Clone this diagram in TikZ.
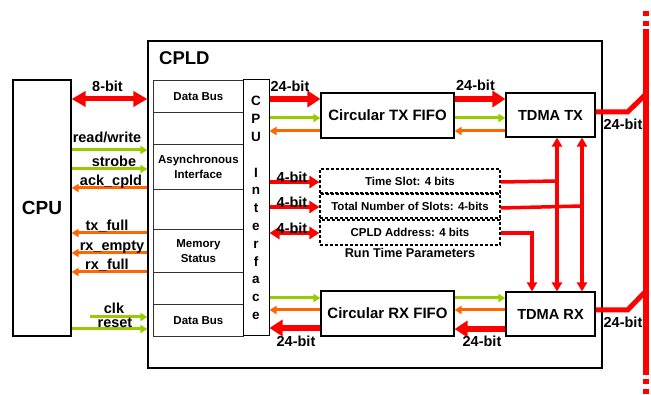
\documentclass[tikz,border=0pt]{standalone}
\usepackage{fontspec}
\setmainfont{Liberation Sans}
\usetikzlibrary{arrows.meta, positioning}
\definecolor{sigred}{RGB}{255, 0, 0}
\definecolor{siggreen}{RGB}{153, 204, 0}
\definecolor{sigorange}{RGB}{255, 102, 0}
\newcommand{\fnt}[2]{\fontsize{#1}{#2}\selectfont\bfseries}
\tikzset{
  box/.style={rectangle, draw=black, line width=1.2pt, fill=white, inner sep=0pt, align=center},
  rowbox/.style={rectangle, draw=black!80, line width=0.8pt, minimum width=90, inner sep=0pt,
                 align=center, font=\fnt{11.5}{14.5}},
  parbox/.style={rectangle, draw=black, line width=1.2pt, dash pattern=on 3pt off 2pt,
                 minimum width=180, inner sep=0pt, font=\fnt{11.5}{14}},
  lbl/.style={font=\fnt{14.5}{17}, inner sep=0pt, anchor=base},
  sig/.style={line width=3pt, -{Triangle[length=7pt,width=8pt]}},
  wbus/.style={color=sigred, line width=6pt, -{Triangle[length=13pt,width=16pt]}},
  nbus/.style={color=sigred, line width=4.5pt, -{Triangle[length=10pt,width=12pt]}},
  vbus/.style={color=sigred, line width=3.5pt, {Triangle[length=9pt,width=10pt]}-{Triangle[length=9pt,width=10pt]}},
  pbus/.style={color=sigred, line width=3.5pt},
  bus/.style={color=sigred, line width=5pt},
}
\begin{document}
\begin{tikzpicture}[x=1pt, y=-1pt]
  \useasboundingbox (0,0) rectangle (651,395);

  % boxes
  \node[box, minimum width=58, minimum height=256, font=\fnt{19}{22}] (cpu) at (42,208) {CPU};
  \node[box, minimum width=454, minimum height=327] (cpld) at (375,204.5) {};
  \node[font=\fnt{18.5}{20}, inner sep=0pt, anchor=base west] (cpldlbl) at (159,65) {CPLD};

  \foreach \n/\top/\h/\txt in {dba/80/32/Data Bus, ea/112/32/, as/144/45/{Asynchronous\\Interface},
                               eb/189/40/, ms/229/43/{Memory\\Status}, ec/272/32/, dbb/304/32/Data Bus}
    \node[rowbox, minimum height=\h, anchor=north west] (\n) at (153,\top) {\txt};

  \node[box, line width=1pt, minimum width=26, minimum height=256, font=\fnt{13.5}{17.8}] (cpuif) at (256,208)
       {C\\P\\U\\[17.8pt]I\\n\\t\\e\\r\\f\\a\\c\\e};

  \node[box, minimum width=133, minimum height=45, font=\fnt{15}{17}] (txfifo) at (387.5,115.5) {Circular TX FIFO};
  \node[box, minimum width=89, minimum height=44, font=\fnt{14.6}{17}] (tdmatx) at (550.5,115) {TDMA TX};
  \node[box, minimum width=133, minimum height=45, font=\fnt{15}{17}] (rxfifo) at (387.5,313.5) {Circular RX FIFO};
  \node[box, minimum width=89, minimum height=44, font=\fnt{14.6}{17}] (tdmarx) at (550.5,314) {TDMA RX};

  \node[parbox, minimum height=24] (tslot) at (410,181) {Time Slot: 4 bits};
  \node[parbox, minimum height=24] (nslots) at (410,206) {Total Number of Slots: 4-bits};
  \node[parbox, minimum height=25] (caddr) at (410,232.5) {CPLD Address: 4 bits};
  \node[font=\fnt{12.7}{15}, inner sep=0pt, anchor=base] (rtp) at (410,258) {Run Time Parameters};

  % CPU <-> CPLD
  \draw[color=sigred, line width=5pt, {Triangle[length=14pt,width=15pt]}-{Triangle[length=14pt,width=15pt]}]
       (cpu.east |- 0,99) -- (cpld.west |- 0,99);
  \foreach \y in {150, 169, 329}
    \draw[sig, siggreen] (cpu.east |- 0,\y) -- (cpld.west |- 0,\y);
  \foreach \y in {188, 233, 253, 272}
    \draw[sig, sigorange] (cpld.west |- 0,\y) -- (cpu.east |- 0,\y);
  \coordinate (clkin) at (90,317);
  \draw[sig, siggreen] (clkin) -- (cpld.west |- clkin);

  % CPU interface <-> FIFOs and parameters
  \draw[wbus] (cpuif.east |- 0,99) -- (txfifo.west |- 0,99);
  \draw[sig, siggreen] (cpuif.east |- 0,118) -- (txfifo.west |- 0,118);
  \draw[sig, sigorange] (txfifo.west |- 0,131) -- (cpuif.east |- 0,131);
  \foreach \n/\y in {tslot/182, nslots/207}
    \draw[nbus] (cpuif.east |- 0,\y) -- (\n.west |- 0,\y);
  \draw[nbus, {Triangle[length=10pt,width=12pt]}-{Triangle[length=10pt,width=12pt]}]
       (cpuif.east |- 0,233) -- (caddr.west |- 0,233);
  \draw[sig, siggreen] (cpuif.east |- 0,298) -- (rxfifo.west |- 0,298);
  \draw[sig, sigorange] (rxfifo.west |- 0,310) -- (cpuif.east |- 0,310);
  \draw[wbus] (rxfifo.west |- 0,328) -- (cpuif.east |- 0,328);

  % FIFOs <-> TDMA
  \draw[wbus] (txfifo.east |- 0,99) -- (tdmatx.west |- 0,99);
  \draw[sig, siggreen] (txfifo.east |- 0,118) -- (tdmatx.west |- 0,118);
  \draw[sig, sigorange] (tdmatx.west |- 0,131) -- (txfifo.east |- 0,131);
  \draw[sig, siggreen] (rxfifo.east |- 0,298) -- (tdmarx.west |- 0,298);
  \draw[sig, sigorange] (tdmarx.west |- 0,310) -- (rxfifo.east |- 0,310);
  \draw[wbus] (tdmarx.west |- 0,329) -- (rxfifo.east |- 0,329);

  % parameters -> TDMA
  \foreach \x in {557, 582}
    \draw[vbus] (tdmatx.south -| \x,0) -- (tdmarx.north -| \x,0);
  \draw[pbus] (tslot.east |- 0,182) -- (tslot.east -| 557,182);
  \draw[pbus] (nslots.east |- 0,208) -- (nslots.east -| 582,208);
  \draw[pbus, -{Triangle[length=9pt,width=10pt]}] (caddr.east |- 0,233) -| (tdmarx.north -| 532,0);

  % external bus
  \coordinate (bustx) at (646,94);
  \coordinate (busrx) at (646,291);
  \draw[bus] (tdmatx.east |- 0,112) -- ++(32,0) -- (bustx);
  \draw[bus] (tdmarx.east |- 0,310) -- ++(32,0) -- (busrx);
  \draw[color=sigred, line width=6pt] (646,29) -- (646,375);
  \foreach \a in {11, 21, 379, 389}
    \draw[color=sigred, line width=6pt] (646,\a) -- ++(0,5);

  % labels
  \node[lbl] (l8) at (107.5,92) {8-bit};
  \foreach \x/\b/\txt in {107/143/{read/write}, 114/167/strobe, 111/186/ack\_cpld, 107/231/tx\_full,
                          112/251/rx\_empty, 107/270/rx\_full, 114/313.5/clk, 115/328/reset}
    \node[lbl] at (\x,\b) {\txt};
  \node[lbl] (lt1) at (290,92) {24-bit};
  \node[lbl] (lt2) at (475.5,91) {24-bit};
  \foreach \y in {183, 208, 234}
    \node[lbl] at (292,\y) {4-bit};
  \node[lbl] (lr1) at (296,347) {24-bit};
  \node[lbl] (lr2) at (482,347) {24-bit};
  \node[lbl] (lb1) at (623,130) {24-bit};
  \node[lbl] (lb2) at (623,328) {24-bit};
\end{tikzpicture}
\end{document}
